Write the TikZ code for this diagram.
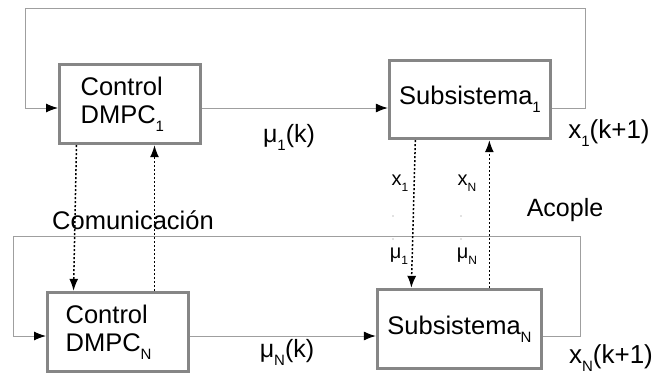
\documentclass[tikz,border=0pt]{standalone}
\usepackage{fontspec}
\setmainfont{Liberation Sans}
\usetikzlibrary{arrows.meta}

\newcommand{\sbs}[1]{\raisebox{-0.6ex}{\fontsize{15}{16}\selectfont #1}}
\newcommand{\tinysbs}[1]{\raisebox{-0.6ex}{\fontsize{12}{13}\selectfont #1}}

\tikzset{
  blockbox/.style={draw=gray!95, line width=3.3pt, fill=white, align=center,
    inner sep=0pt, font=\fontsize{25.5}{28}\selectfont},
  ctrlbox/.style={blockbox, align=left, inner xsep=#1, text width=140.7pt-2*#1},
  conn/.style={draw=gray!75, line width=1pt},
  comm/.style={draw=black, line width=1.5pt, dash pattern=on 2pt off 2pt},
  arr/.style={-{Latex[length=12pt,width=9pt,color=black]}},
  lbl/.style={inner sep=0pt, font=\fontsize{25}{28}\selectfont},
  smalllbl/.style={inner sep=0pt, font=\fontsize{20}{22}\selectfont}
}

\begin{document}
\begin{tikzpicture}[x=1pt,y=-1pt]
  \useasboundingbox (0,0) rectangle (654,378);

  % blocks
  \node[ctrlbox=21pt, minimum height=79pt] (ctrlA) at (130,104) {Control\\DMPC\sbs{1}};
  \node[blockbox, minimum width=161pt, minimum height=78pt] (subA) at (470,99.5) {Subsistema\sbs{1}};
  \node[ctrlbox=18pt, minimum height=79pt] (ctrlB) at (118,332) {Control\\DMPC\sbs{N}};
  \node[blockbox, minimum width=164pt, minimum height=79pt] (subB) at (459.5,329) {Subsistema\sbs{N}};

  % feedback corners
  \coordinate (loopAr) at (585,108);
  \coordinate (loopAl) at (25,108);
  \coordinate (topA) at (25,8);
  \coordinate (loopBr) at (580,336);
  \coordinate (loopBl) at (13,336);
  \coordinate (topB) at (13,236);

  % signal paths
  \draw[conn,arr] (ctrlA.east |- loopAl) -- (subA.west |- loopAl);
  \draw[conn,arr] (subA.east |- loopAr) -- (loopAr) |- (topA) -- (loopAl) -- (ctrlA.west |- loopAl);
  \draw[conn,arr] (ctrlB.east |- loopBl) -- (subB.west |- loopBl);
  \draw[conn,arr] (subB.east |- loopBr) -- (loopBr) |- (topB) -- (loopBl) -- (ctrlB.west |- loopBl);

  % communication
  \draw[comm,arr] ([xshift=18.5pt]ctrlA.south west) -- ([xshift=27.5pt]ctrlB.north west);
  \draw[comm,arr] ([xshift=108.5pt]ctrlB.north west) -- ([xshift=96.5pt]ctrlA.south west);
  \draw[comm,arr] ([xshift=27.5pt]subA.south west) -- ([xshift=35.5pt]subB.north west);
  \draw[comm,arr] ([xshift=113.5pt]subB.north west) -- ([xshift=101.5pt]subA.south west);

  % labels
  \node[lbl] (muA) at (289,137) {μ\sbs{1}(k)};
  \node[lbl] (muB) at (287,352) {μ\sbs{N}(k)};
  \node[lbl, font=\fontsize{26}{28}\selectfont] (xA) at (609,133) {x\sbs{1}(k+1)};
  \node[lbl, font=\fontsize{26}{28}\selectfont] (xB) at (611,358) {x\sbs{N}(k+1)};
  \node[lbl, font=\fontsize{25.5}{28}\selectfont] (comlbl) at (133,220) {Comunicación};
  \node[lbl] (acople) at (565,210) {Acople};
  \node[smalllbl] (xsA) at (400,183) {x\tinysbs{1}};
  \node[smalllbl] (xsB) at (467,183) {x\tinysbs{N}};
  \node[smalllbl] (musA) at (399,256) {μ\tinysbs{1}};
  \node[smalllbl] (musB) at (467,256) {μ\tinysbs{N}};
  \foreach \px in {393,461}
    \foreach \py in {216,239}
      \fill[gray] (\px,\py) circle (0.6pt);
\end{tikzpicture}
\end{document}
